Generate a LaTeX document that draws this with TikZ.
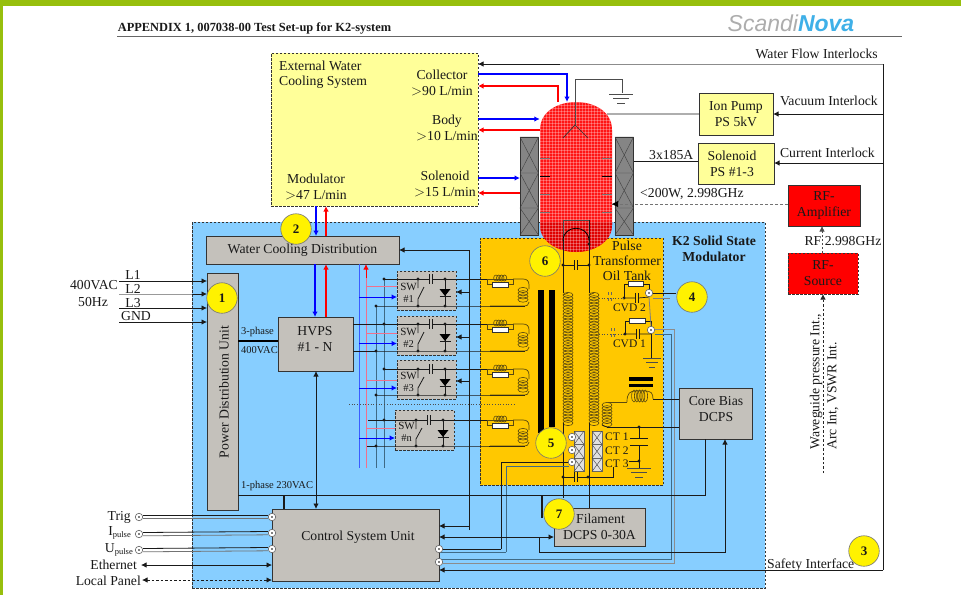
\documentclass[tikz,border=0pt]{standalone}
\usepackage{fontspec}
\setmainfont{Liberation Serif}
\newfontfamily\logofont{Liberation Sans}
\usetikzlibrary{arrows.meta,calc}
\definecolor{barg}{HTML}{97BF0D}
\definecolor{panelb}{HTML}{87CEFF}
\definecolor{oily}{HTML}{FFC800}
\definecolor{paley}{HTML}{FFFF99}
\definecolor{boxg}{HTML}{C4C1BB}
\definecolor{wirec}{HTML}{1A1A1A}
\definecolor{busc}{HTML}{3F6A85}
\definecolor{coilc}{HTML}{5A4A10}
\definecolor{pinkb}{HTML}{F0708C}
\definecolor{blueb}{HTML}{3A5CFF}
\definecolor{flowr}{HTML}{FF0000}
\definecolor{flowb}{HTML}{0000FF}
\tikzset{
  every node/.style={font=\fontsize{13.7}{15}\selectfont,text=black!90,inner sep=0pt},
  wire/.style={draw=wirec,line width=.8pt},
  gwire/.style={draw=black!45,line width=.8pt},
  bus/.style={draw=busc,line width=.9pt},
  tip/.style={-{Latex[length=5.5pt,width=5.5pt]}},
  tipb/.style={{Latex[length=5.5pt,width=5.5pt]}-{Latex[length=5.5pt,width=5.5pt]}},
  bflow/.style={draw=flowb,line width=1.1pt,tip,color=flowb},
  rflow/.style={draw=flowr,line width=1.1pt,tip,color=flowr},
  solidbox/.style={draw=black!80,line width=.8pt},
  greybox/.style={solidbox,fill=boxg},
  yellowbox/.style={solidbox,fill=paley},
  redbox/.style={solidbox,fill=red},
  dashbox/.style={draw=black!80,line width=.7pt,dash pattern=on 2.5pt off 1.5pt},
  numc/.style={circle,fill=yellow,draw=black!55,line width=.6pt,minimum size=30.5pt,font=\bfseries\fontsize{13}{13}\selectfont},
  portc/.style={circle,fill=white,draw=black!60,line width=.6pt,minimum size=7.5pt},
  small/.style={font=\fontsize{10.5}{12}\selectfont},
  tanklbl/.style={font=\fontsize{11.5}{13}\selectfont},
  cross/.style={draw=black!75,line width=.4pt},
}
\newcommand\bx[7]{%
  \pgfmathsetmacro\bxw{abs(#4-(#2))}\pgfmathsetmacro\bxh{abs(#5-(#3))}%
  \pgfmathsetmacro\bxcx{(#2+#4)/2}\pgfmathsetmacro\bxcy{(#3+#5)/2}%
  \node[#6,minimum width=\bxw pt,minimum height=\bxh pt,align=center,outer sep=0pt] (#1) at (\bxcx,\bxcy) {#7};}
\newcommand\lbl[5][]{\node[#1] (#2) at ({#3},{#4}) {#5};}
\newcommand\dt[2]{\fill[wirec] (#1,#2) circle (1.6);}
\newcommand\portn[3]{\node[portc] (#1) at (#2,#3) {};\fill[black] (#2,#3) circle (.8);}
\newcommand\vcoil[3]{\pgfmathsetmacro\vca{#2}\pgfmathsetmacro\vcb{#2+3.2}\pgfmathsetmacro\vcc{#3}%
  \foreach \yy in {\vca,\vcb,...,\vcc} {\draw[coilc,line width=.6pt] (#1,\yy) ellipse (5 and 2.6);}}
\newcommand\hcoil[4]{\pgfmathsetmacro\vca{#1}\pgfmathsetmacro\vcb{#1+2.8}\pgfmathsetmacro\vcc{#2}%
  \foreach \xx in {\vca,\vcb,...,\vcc} {\draw[coilc,line width=.6pt] (\xx,#3) ellipse (2.4 and #4);}}
\newcommand\capv[3]{\fill[#3] (#1-1.4,#2-5) rectangle (#1+1.4,#2+5);\draw[wirec,line width=.8pt] (#1-1.4,#2-5) -- (#1-1.4,#2+5) (#1+1.4,#2-5) -- (#1+1.4,#2+5);}
\newcommand\gnd[3]{\draw[black!70,line width=.7pt] (#1-#3,#2) -- (#1+#3,#2) (#1-#3*.65,#2+4.5) -- (#1+#3*.65,#2+4.5) (#1-#3*.3,#2+9) -- (#1+#3*.3,#2+9);}
\newcommand\stackb[4]{% name,x1,y1,y2 with sections
  \bx{#1}{#2}{#3}{#2+18.5}{#4}{solidbox,fill=black!48}{}
  \foreach \ya/\yb in {#3/#3+36,#3+36/#3+71,#3+71/#4} {
    \draw[cross] (#2,\ya) -- (#2+18.5,\yb) (#2+18.5,\ya) -- (#2,\yb) (#2,\ya) -- (#2+18.5,\ya);}
}
\newcommand\ctb[3]{\bx{#1}{#2}{#3}{#2+10}{#3+13.5}{draw=black!60,line width=.5pt,fill=black!12}{}
  \draw[cross] (#2,#3) -- (#2+10,#3+13.5) (#2+10,#3) -- (#2,#3+13.5);}
\newcommand\swunit[8]{% name,x,ybox1,ybox2,label,ytop,ybot,xbus
  \bx{#1}{#2}{#3}{#2+59}{#4}{dashbox,fill=boxg}{}
  \lbl[small,align=center]{#1t}{#2+11.5}{(#3+#4)/2+2}{\fontsize{11}{12.5}\selectfont SW\\#5}
  \draw[wire] (#8,#6) -- (490,#6) (376,#7) -- (#2+59,#7) -- (525,#7);
  \draw[wire] (#2+21,#6) -- (#2+21,#6+9) (#2+21,#7) -- (#2+21,#7-7) -- (#2+27,#6+8);
  \draw[wire] (#2+48,#6) -- (#2+48,#7);
  \fill[black] (#2+42.5,#6+10) -- (#2+53.5,#6+10) -- (#2+48,#6+17) -- cycle;
  \draw[wire] (#2+42.5,#6+17.5) -- (#2+53.5,#6+17.5);
  \capv{#2+34}{#6}{boxg}
  \dt{#2+21}{#6}\dt{#2+48}{#6}\dt{#2+21}{#7}\dt{#2+48}{#7}
  % pulse network
  \draw[coilc,line width=.7pt] (487,#6) -- (487,#6+5.5) -- (492,#6+5.5) (508,#6+5.5) -- (513,#6+5.5) -- (513,#6);
  \draw[coilc,line width=.7pt] (513,#6) -- (523,#6) .. controls (527,#6) and (529,#6+2) .. (529,#6+6) -- (529,#6+10);
  \draw[coilc,line width=.7pt] (529,#7-4) .. controls (529,#7-1) and (527,#7) .. (523,#7) -- (490,#7);
  \draw[coilc,line width=.7pt] (487,#6) -- (513,#6);
  \hcoil{496}{505}{#6-1}{3}
  \fill[white,draw=black!80,line width=.5pt] (492.5,#6+3) rectangle (508.5,#6+8);
  \vcoil{523}{#6+11}{#7-5}
}
\begin{document}
\begin{tikzpicture}[x=1pt,y=-1pt]
\useasboundingbox (0,0) rectangle (961,595);
\fill[white] (0,0) rectangle (961,595);
\fill[barg] (0,0) rectangle (961,6);
\fill[barg] (0,0) rectangle (3,595);
% header
\lbl[font=\bfseries\fontsize{12.4}{14}\selectfont]{title}{254.5}{28}{APPENDIX 1, 007038-00 Test Set-up for K2-system}
\draw[black!60,line width=.9pt] (117,36) -- (902,36);
\lbl[font=\logofont\fontsize{23}{23}\selectfont]{logo}{791}{23}{\textcolor{black!32}{\itshape Scandi}\textcolor[HTML]{3FB0E8}{\bfseries\itshape Nova}}
% panels
\bx{panel}{192}{222}{765}{588}{dashbox,fill=panelb}{}
\bx{ext}{271}{53}{478}{206}{dashbox,fill=paley}{}
\bx{oil}{480}{238}{663}{485}{dashbox,fill=oily}{}
% external box text
\lbl[anchor=west,align=left]{extt}{279}{75}{External Water\\Cooling System}
\lbl[align=center]{colt}{442}{82.5}{Collector\\[1pt]$>$90 L/min}
\lbl[align=center]{bodt}{447}{127.5}{Body\\[1pt]$>$10 L/min}
\lbl[align=center]{solt}{445}{183.5}{Solenoid\\[1pt]$>$15 L/min}
\lbl[align=center]{modt}{316}{187}{Modulator\\[1pt]$>$47 L/min}
% klystron
\newcommand\tankpath{(540,130) .. controls (540,110) and (560,102) .. (576,102) .. controls (592,102) and (612,110) .. (612,130) -- (612,225) .. controls (612,243) and (592,252) .. (576,252) .. controls (560,252) and (540,243) .. (540,225) -- cycle}
\fill[flowr!92!white] \tankpath;
\begin{scope}
\clip \tankpath;
\fill[red!88!black] (530,222) rectangle (620,255);
\foreach \gx in {540,543,...,612} {\draw[white,opacity=.28,line width=.5pt] (\gx,100) -- (\gx,255);}
\foreach \gy in {102,105,...,252} {\draw[white,opacity=.28,line width=.5pt] (535,\gy) -- (615,\gy);}
\end{scope}
\path (576,177) node[minimum width=72pt,minimum height=150pt] (tank) {};
\foreach \ty/\tc in {158/black!55,176/black,194/black!55,212/black!55} {
  \draw[\tc,line width=.7pt] (540,\ty) -- (550,\ty) (602,\ty) -- (612,\ty);}
\stackb{stl}{520}{137}{235}
\stackb{str}{615}{137}{235}
% ground and gun
\coordinate (gr) at (622,93);
\draw[black!70,line width=.8pt] (575,125) -- (575,79) -| (gr);
\gnd{621}{94}{12}
\draw[black!80,line width=.7pt] (563,138) -- (575,125) -- (588,138);
% water arrows
\draw[bflow] (ext.east |- 0,74) -| (567,102);
\draw[rflow] (558,102) |- (ext.east |- 0,86);
\draw[bflow] (ext.east |- 0,119) -- (tank.west |- 0,119);
\draw[rflow] (tank.west |- 0,130) -- (ext.east |- 0,130);
\draw[bflow] (ext.east |- 0,178) -- (stl.west |- 0,178);
\draw[rflow] (stl.west |- 0,193) -- (ext.east |- 0,193);
% interlock frame
\coordinate (fr) at (883,64);
\coordinate (frb) at (883,570);
\draw[wire,gwire] (fr) -- (ext.east |- fr);
\draw[wirec,line width=.8pt,tip] (560,64) -- (ext.east |- fr);
\draw[wirec,line width=.9pt] (fr) -- (frb);
\lbl[anchor=east]{wfi}{878}{54}{Water Flow Interlocks}
% right boxes
\bx{ion}{699}{93}{773}{135}{yellowbox}{Ion Pump\\[1pt]PS 5kV}
\bx{sps}{698}{143}{774}{184}{yellowbox}{\hspace*{-8pt}Solenoid\\[1pt]\hspace*{-8pt}PS \#1-3}
\bx{amp}{788}{185}{860}{226}{redbox}{RF-\\[1pt]Amplifier}
\bx{src}{788}{253}{858}{294}{dashbox,fill=red}{RF-\\[1pt]Source}
\draw[wirec,line width=.8pt] (ion.west) -- (607,113.9);
\draw[wirec,line width=.8pt] (sps.west |- 0,161) -- (str.east |- 0,161);
\draw[black!60,line width=1pt,tip,wirec] (fr |- ion.east) -- (ion.east);
\draw[black!60,line width=1pt,tip,wirec] (fr |- 0,163) -- (sps.east |- 0,163);
\lbl[anchor=east]{vi}{878}{101}{Vacuum Interlock}
\lbl[anchor=east]{ci}{875}{153}{Current Interlock}
\lbl[anchor=west]{x3}{649}{155}{3x185A}
\lbl[anchor=west]{rfw}{640}{194}{<200W, 2.998GHz}
\draw[black!55,line width=.8pt,dash pattern=on 3pt off 2pt] (amp.west |- 0,204) -- (tank.east |- 0,204);
\fill[black] (612,204) -- (618,201) -- (618,207) -- cycle;
\draw[black!70,line width=.7pt,dash pattern=on 2pt off 2pt,tip] (src.north -| 822,0) -- (amp.south -| 822,0);
\lbl{rff}{843}{241}{RF 2.998GHz}
\coordinate (wgb) at (823,473);
\draw[black!85,line width=.8pt,dash pattern=on 2.5pt off 2pt,tip] (wgb) -- (src.south -| wgb);
\lbl[rotate=90,anchor=west]{wg1}{816}{450}{Waveguide pressure Int.,}
\lbl[rotate=90,anchor=west]{wg2}{833}{450}{Arc Int, VSWR Int.}
% panel boxes
\bx{wcd}{206}{236}{399}{264}{greybox}{Water Cooling Distribution}
\bx{pdu}{207}{273}{238}{510}{greybox}{}
\lbl[rotate=90]{pdut}{224}{392}{Power Distribution Unit}
\bx{hvps}{278}{317}{353}{371}{greybox}{}
\lbl[align=center]{hvpst}{315}{339}{HVPS\\[1pt]\#1 - N}
\bx{csu}{272}{509}{439}{581}{greybox}{}
\lbl{csut}{358}{537}{Control System Unit}
\bx{fil}{554}{508}{645}{546}{greybox}{\hspace*{2pt}Filament\\[1pt]DCPS 0-30A}
\bx{core}{679}{388}{752}{439}{greybox}{}
\lbl[align=center]{coret}{716}{409}{Core Bias\\[1pt]DCPS}
\lbl[anchor=west,font=\bfseries\fontsize{13.7}{15.5}\selectfont,align=center]{k2}{672}{249}{K2 Solid State\\Modulator}
\lbl[align=center]{pt}{627}{261}{Pulse\\Transformer\\Oil Tank}
% flow to/from distribution
\draw[bflow] (316,0 |- ext.south) -- (316,0 |- wcd.north);
\draw[rflow] (326,0 |- wcd.north) -- (326,0 |- ext.south);
\draw[bflow] (315,0 |- wcd.south) -- (315,0 |- hvps.north);
\draw[rflow] (326,0 |- hvps.north) -- (326,0 |- wcd.south);
% mains
\coordinate (ml1) at (119,281);\coordinate (ml2) at (119,294);\coordinate (ml3) at (119,308);\coordinate (ml4) at (119,322);
\draw[wirec,line width=.8pt,tip] (ml1) -- (pdu.west |- ml1);
\draw[black!40,line width=.9pt] (ml2) -- (192,0 |- ml2);
\draw[wirec,line width=.8pt,tip] (192,0 |- ml2) -- (pdu.west |- ml2);
\draw[wirec,line width=.8pt,tip] (ml3) -- (pdu.west |- ml3);
\draw[wirec,line width=.8pt,tip] (ml4) -- (pdu.west |- ml4);
\lbl{l1}{133}{275}{L1}\lbl{l2}{133}{289}{L2}\lbl{l3}{133}{303}{L3}
\lbl[anchor=west]{lg}{121}{316}{GND}
\lbl[anchor=east]{vac}{118}{285}{400VAC}
\lbl{hz}{93}{302}{50Hz}
\draw[black,line width=2.6pt] (pdu.east |- 0,341) -- (hvps.west |- 0,341);
\lbl[anchor=west,small]{p3}{241}{332}{3-phase}
\lbl[anchor=west,small]{p4}{241}{350}{400VAC}
% buses
\draw[blueb,line width=1pt] (359,0 |- wcd.south) -- (359,468);
\draw[pinkb,line width=1pt] (366,468) -- (366,278);
\draw[flowr,line width=1pt,tip] (366,278) -- (366,0 |- wcd.south);
\draw[bus] (384,279) -- (384,468) (376,306) -- (376,468);
\draw[bus,tip,wirec] (469,530) -- (469,250) -- (wcd.east |- 0,250);
\draw[wirec,line width=.8pt,tip] (469,526) -- (csu.east |- 0,526);
% switches
\swunit{sw1}{397}{271}{310}{\#1}{279}{306}{384}
\swunit{sw2}{397}{316}{355}{\#2}{324}{351}{384}
\swunit{sw3}{397}{360}{399}{\#3}{369}{395}{384}
\swunit{swn}{395}{410}{450}{\#n}{420}{446}{368}
\draw[wire] (367,446) -- (376,446);
\draw[black!70,dotted,line width=.7pt] (349,404) -- (514,404);
\foreach \yr/\yb/\nn/\xt in {286/297/sw1/397,333/343.5/sw2/397,380/388/sw3/397,428/438/swn/395} {
  \draw[pinkb,line width=1pt] (366,\yr) -- (\nn.west |- 0,\yr);
  \draw[flowb,line width=1pt,tip,color=flowb] (359,\yb) -- (\nn.west |- 0,\yb);
}
\foreach \yy/\nn in {292/sw1,337/sw2,381/sw3} {
  \draw[wirec,line width=.8pt,tip] (469,\yy) -- (\nn.east |- 0,\yy);
}
\draw[wire] (hvps.east |- 0,324) -- (384,324);
\draw[wire] (hvps.east |- 0,351) -- (376,351);
\foreach \a/\b in {384/279,384/324,384/369,384/420,376/306,376/351,376/395,376/446} {\dt{\a}{\b}}
% core bars
\fill[black] (538,290) rectangle (544,433);
\fill[black] (549,290) rectangle (555,427);
% pulse transformer secondary
\draw[coilc,line width=.7pt] (563,295) -- (568,293) (589,295) -- (594,293);
\vcoil{568}{295}{423}
\vcoil{594}{295}{423}
\draw[wirec,line width=.8pt] (563,240) -- (563,293);
\draw[wirec,line width=.8pt] (589,220) -- (589,293);
\draw[black!70,line width=.7pt] (563,240) -- (563,220) -- (589,220);
\draw[black,line width=.8pt] (563,241) .. controls (563,224) and (589,224) .. (589,241);
\capv{576}{265}{oily}
\draw[wirec,line width=.8pt] (563,265) -- (574.6,265) (577.4,265) -- (589,265);
\dt{589}{244}\dt{563}{265}\dt{589}{265}
\draw[wirec,line width=.8pt] (563,423) -- (563,498);
\draw[wirec,line width=.8pt] (589,423) -- (589,0 |- fil.north);
\capv{576}{477}{oily}
\draw[wirec,line width=.8pt] (563,477) -- (574.6,477) (577.4,477) -- (613,477) -- (613,461) -- (640,461);
\dt{563}{477}\dt{588}{477}
% CTs
\ctb{ct1a}{574}{431}\ctb{ct2a}{574}{444.5}\ctb{ct3a}{574}{458}
\ctb{ct1b}{592}{431}\ctb{ct2b}{592}{444.5}\ctb{ct3b}{592}{458}
\portn{cp1}{572}{437}\portn{cp2}{572}{450}\portn{cp3}{572}{462}
\lbl[anchor=west,tanklbl]{ct1}{605}{437}{CT 1}
\lbl[anchor=west,tanklbl]{ct2}{605}{451}{CT 2}
\lbl[anchor=west,tanklbl,fill=oily]{ct3}{605}{463.5}{CT 3}
\draw[wirec,line width=.8pt] (501,549) -- (501,462) -- (cp3.west);
\draw[busc,line width=.8pt] (506,552) -- (506,466) -- (569,466);
\draw[wirec,line width=.8pt] (csu.east |- 0,549) -- (501,549);
\draw[busc,line width=.8pt] (csu.east |- 0,552) -- (506,552);
% CVDs
\portn{bnc2}{649}{293}
\portn{bnc1}{651}{330}
\bx{rc2}{628}{281.5}{643}{286.5}{draw=black!80,line width=.5pt,fill=white}{}
\bx{rc1}{629}{318.5}{645}{323.5}{draw=black!80,line width=.5pt,fill=white}{}
\draw[wirec,line width=.7pt] (624,298) -- (624,284) -- (rc2.west) (rc2.east) -- (649,284) -- (bnc2.north);
\draw[wirec,line width=.7pt] (625,334) -- (625,321) -- (rc1.west) (rc1.east) -- (651,321) -- (bnc1.north);
\draw[wirec,line width=.7pt] (624,298) -- (635.6,298) (638.4,298) -- (bnc2.south);
\draw[wirec,line width=.7pt] (625,334) -- (636.6,334) (639.4,334) -- (bnc1.south);
\capv{637}{298}{oily}\capv{638}{334}{oily}
\dt{624}{298}\dt{625}{334}
\draw[black!70,line width=.7pt,dotted] (599,298) -- (624,298);
\draw[black!70,line width=.7pt,dotted] (599,334) -- (625,334);
\draw[black!60,line width=.6pt,dashed] (608.5,292) -- (608.5,304) (611.5,292) -- (611.5,304);
\draw[black!60,line width=.6pt,dashed] (611.5,328) -- (611.5,340) (614.5,328) -- (614.5,340);
\lbl[tanklbl]{cvd2}{629.5}{308}{CVD 2}
\lbl[tanklbl]{cvd1}{629.5}{344}{CVD 1}
\draw[black!50,line width=.8pt] (bnc2.south) -- (bnc1.north);
\draw[black!50,line width=.8pt] (bnc2.east |- 0,298) -- (670,298);
\draw[wirec,line width=.8pt] (bnc1.south) -- (651,358);
\gnd{652}{358}{9}
% CVD to control
\portn{cr1}{439}{549}
\portn{cr2}{439}{562}
\draw[wirec,line width=.8pt] (bnc2.east) -- (673,293);
\draw[busc,line width=.8pt] (bnc1.east |- 0,334) -- (671,334) -- (671,559) -- (442,559);
\draw[black!45,line width=.8pt] (bnc1.east |- 0,329) -- (674,329) -- (674,563) -- (442,563);
% core bias section
\fill[black] (629,377) rectangle (653,380.5);
\fill[black] (629,383.5) rectangle (653,387);
\hcoil{634}{647}{396}{6}
\draw[coilc,line width=.7pt] (627,402) .. controls (627,393) and (630,391) .. (636,391) -- (645,391) .. controls (651,391) and (653,393) .. (653,399);
\draw[wirec,line width=.8pt] (653,399) -- (core.west |- 0,399);
\draw[coilc,line width=.7pt] (627,402) -- (608,402);
\vcoil{607}{405}{425}
\draw[wirec,line width=.7pt] (602,425) -- (607,427);
\draw[wirec,line width=.8pt] (607,427) -- (core.west |- 0,427);
\dt{639}{427}
\draw[wirec,line width=.8pt] (639,427) -- (639,438) (639,445) -- (639,468);
\draw[wirec,line width=.8pt] (630,438) -- (648,438) (630,445) -- (648,445);
\dt{639}{461}
\gnd{639}{468}{12}
% power lines
\draw[wirec,line width=1pt] (pdu.east |- 0,495) -- (705,495) -- (705,0 |- core.south);
\draw[wirec,line width=1.2pt] (284,495) -- (284,0 |- csu.north);
\draw[wirec,line width=1.2pt] (542,495) -- (542,518);
\lbl[anchor=west,small]{p1}{241}{486}{1-phase 230VAC}
% control to Filament, Core
\draw[busc,line width=.9pt,tipb,wirec] (csu.east |- 0,537) -- (fil.west |- 0,537);
\draw[bus,tip,wirec] (539,537) -- (539,552) -- (725,552) -- (725,0 |- core.south);
\draw[wirec,line width=.9pt,tipb] (316,0 |- hvps.south) -- (316,0 |- csu.north);
\draw[wirec,line width=.9pt,tip] (frb) -- (csu.east |- frb);
\lbl[anchor=west]{safe}{767}{565}{Safety Interface}
% control ports left
\portn{tl}{139}{517}\portn{il}{139}{534}\portn{ul}{139}{550}
\portn{tr}{272}{517}\portn{ir}{272}{533}\portn{ur}{272}{549}
\foreach \a/\b in {tl/tr,il/ir,ul/ur} {
  \draw[wirec,line width=.8pt] ([yshift=1.5pt]\a.east) -- ([yshift=1.5pt]\b.west);
  \draw[black!55,line width=.8pt] ([yshift=-1.8pt]\a.east) -- ([yshift=-1.8pt]\b.west);
}
\lbl[anchor=east]{trig}{131}{517}{Trig}
\lbl[anchor=east]{ipu}{131}{533}{I{\fontsize{8.5}{8.5}\selectfont\raisebox{-2.5pt}{pulse}}}
\lbl[anchor=east]{upu}{133}{550}{U{\fontsize{8.5}{8.5}\selectfont\raisebox{-2.5pt}{pulse}}}
\lbl[anchor=east]{eth}{137}{565}{Ethernet}
\lbl[anchor=east]{lop}{141}{581}{Local Panel}
\coordinate (etl) at (141,565);\coordinate (lpl) at (142,580);
\draw[wirec,line width=.8pt,tipb] (etl) -- (csu.west |- etl);
\draw[wirec,line width=.8pt,tipb,dash pattern=on 2.5pt off 2pt] (lpl) -- (csu.west |- lpl);
% numbered circles
\node[numc] (n1) at (222,298) {1};
\node[numc] (n2) at (296,229) {2};
\node[numc] (n3) at (864,551) {3};
\node[numc] (n4) at (692,297) {4};
\node[numc] (n5) at (551,443) {5};
\node[numc] (n6) at (545,261) {6};
\node[numc] (n7) at (559,514) {7};
\draw[wirec,line width=.7pt] (673,293) -- (n4.west |- 0,293);
\end{tikzpicture}
\end{document}
